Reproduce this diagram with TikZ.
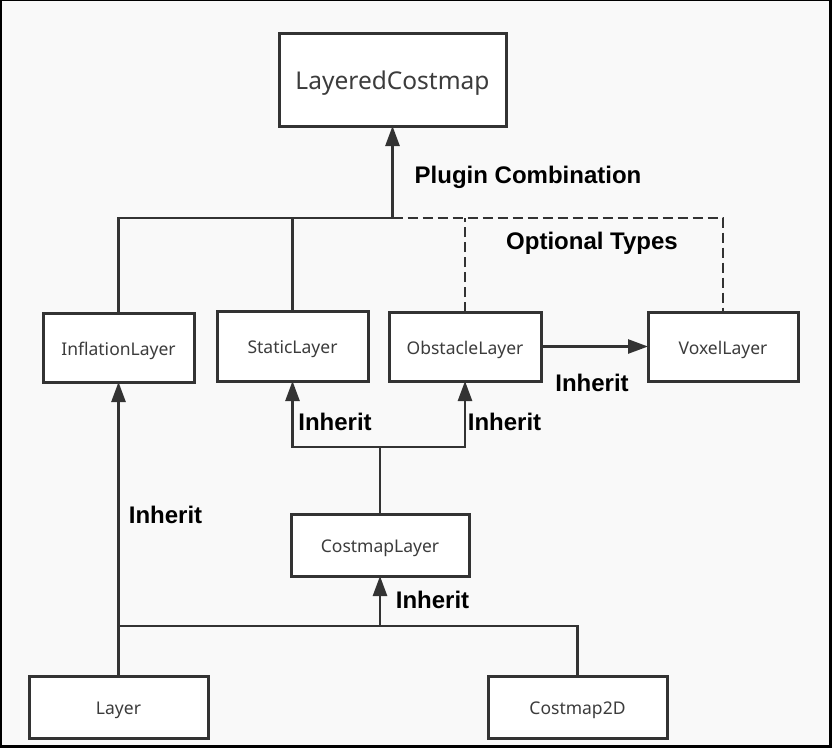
\documentclass[tikz,border=0pt]{standalone}
\usepackage{fontspec}
\setmainfont{Liberation Sans}
\newfontfamily\boxfont{Noto Sans}
\usetikzlibrary{arrows.meta}
\definecolor{bgc}{HTML}{F9F9F9}
\definecolor{linec}{HTML}{333333}
\definecolor{txtc}{HTML}{3C3C3C}
\tikzset{
  cls/.style={draw=linec, line width=3pt, fill=white, rectangle, inner sep=0pt, outer sep=0pt,
    font=\boxfont\fontsize{17.5}{21}\selectfont, text=txtc, text height=15pt, text depth=0pt},
  conn/.style={draw=linec, line width=2.6pt},
  arr/.style={conn, -{Triangle[width=14pt,length=20pt]}},
  opt/.style={conn, dash pattern=on 10pt off 5pt},
  lbl/.style={font=\bfseries\fontsize{24}{28}\selectfont, text=black, inner sep=0pt}
}
\begin{document}
\begin{tikzpicture}[x=1pt,y=-1pt]
\useasboundingbox (0,0) rectangle (832,748);
\fill[black] (0,0) rectangle (832,748);
\fill[bgc] (2,1) rectangle (829,745);
% nodes
\node[cls, minimum width=227pt, minimum height=93pt, font=\boxfont\fontsize{24.5}{29}\selectfont, text height=20pt] (LC) at (392.5,79.5) {LayeredCostmap};
\node[cls, minimum width=151pt, minimum height=69pt] (IL) at (118.5,347.5) {InflationLayer};
\node[cls, minimum width=151pt, minimum height=70pt] (SL) at (292.5,346) {StaticLayer};
\node[cls, minimum width=152pt, minimum height=69pt] (OL) at (465,346.5) {ObstacleLayer};
\node[cls, minimum width=150pt, minimum height=69pt] (VL) at (723,346.5) {VoxelLayer};
\node[cls, minimum width=178pt, minimum height=62pt] (CL) at (380,545) {CostmapLayer};
\node[cls, minimum width=179pt, minimum height=62pt] (LY) at (118.5,707) {Layer};
\node[cls, minimum width=179pt, minimum height=62pt] (C2) at (577.5,707) {Costmap2D};
\coordinate (top) at (392.5,218);
\coordinate (mid) at (380,447);
\coordinate (bot) at (380,626);
% plugin combination
\draw[opt] (top) -| (VL.north);
\draw[opt] (OL.north) -- (OL.north |- top);
\draw[conn] (IL.north) |- (top);
\draw[conn] (SL.north) -- (SL.north |- top);
\draw[arr] (top) -- (LC.south);
% inheritance
\draw[arr] (OL.east) -- (VL.west);
\draw[conn] (CL.north) -- (mid);
\draw[arr] (mid) -| (SL.south);
\draw[arr] (mid) -| (OL.south);
\draw[arr] (LY.north) -- (IL.south);
\draw[conn] (LY.north |- bot) -| (C2.north);
\draw[arr] (bot) -- (CL.south);
% labels
\node[lbl] (l1) at (528,177) {Plugin Combination};
\node[lbl] (l2) at (592,243) {Optional Types};
\node[lbl] (l3) at (592,383) {Inherit};
\node[lbl] (l4) at (335,422) {Inherit};
\node[lbl] (l5) at (504.5,422) {Inherit};
\node[lbl] (l6) at (165.5,515) {Inherit};
\node[lbl] (l7) at (432.5,600) {Inherit};
\end{tikzpicture}
\end{document}
